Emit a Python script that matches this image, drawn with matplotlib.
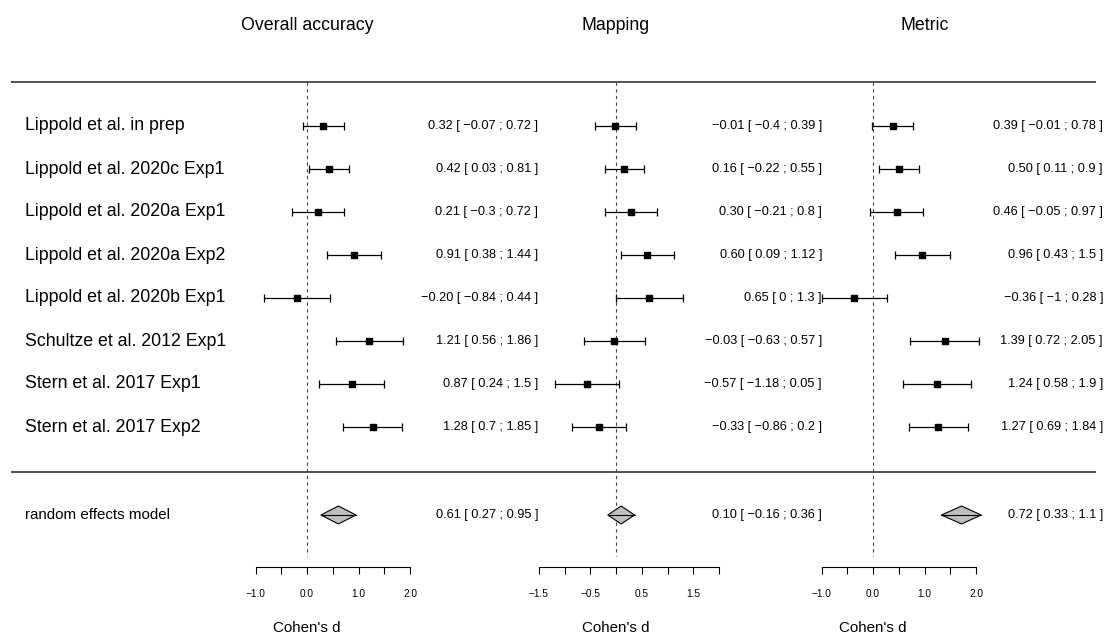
import matplotlib.pyplot as plt
from matplotlib.patches import Polygon

plt.rcParams['font.family'] = ['Liberation Sans', 'DejaVu Sans']

# studies (top to bottom)
studies = ["Lippold et al. in prep", "Lippold et al. 2020c Exp1", "Lippold et al. 2020a Exp1",
           "Lippold et al. 2020a Exp2", "Lippold et al. 2020b Exp1", "Schultze et al. 2012 Exp1",
           "Stern et al. 2017 Exp1", "Stern et al. 2017 Exp2"]

titles = ["Overall accuracy", "Mapping", "Metric"]

acc_est = [0.32, 0.42, 0.21, 0.91, -0.20, 1.21, 0.87, 1.28]
acc_lo = [-0.07, 0.03, -0.30, 0.38, -0.84, 0.56, 0.24, 0.70]
acc_hi = [0.72, 0.81, 0.72, 1.44, 0.44, 1.86, 1.50, 1.85]
acc_re = [0.61, 0.27, 0.95]

map_est = [-0.01, 0.16, 0.30, 0.60, 0.65, -0.03, -0.57, -0.33]
map_lo = [-0.40, -0.22, -0.21, 0.09, 0.00, -0.63, -1.18, -0.86]
map_hi = [0.39, 0.55, 0.80, 1.12, 1.30, 0.57, 0.05, 0.20]
map_re = [0.10, -0.16, 0.36]

met_est = [0.39, 0.50, 0.46, 0.96, -0.36, 1.39, 1.24, 1.27]
met_lo = [-0.01, 0.11, -0.05, 0.43, -1.00, 0.72, 0.58, 0.69]
met_hi = [0.78, 0.90, 0.97, 1.50, 0.28, 2.05, 1.90, 1.84]
met_re = [0.72, 0.33, 1.10]

# where the summary diamonds sit in the picture (metric one is drawn shifted)
diamonds = [[0.61, 0.27, 0.95], [0.10, -0.16, 0.36], [1.72, 1.33, 2.10]]

tick_vals = [[-1.0, -0.5, 0.0, 0.5, 1.0, 1.5, 2.0],
             [-1.5, -1.0, -0.5, 0.0, 0.5, 1.0, 1.5, 2.0],
             [-1.0, -0.5, 0.0, 0.5, 1.0, 1.5, 2.0]]
tick_labs = [["\u22121.0", "", "0.0", "", "1.0", "", "2.0"],
             ["\u22121.5", "", "\u22120.5", "", "0.5", "", "1.5", ""],
             ["\u22121.0", "", "0.0", "", "1.0", "", "2.0"]]

panels = [(acc_est, acc_lo, acc_hi, acc_re),
          (map_est, map_lo, map_hi, map_re),
          (met_est, met_lo, met_hi, met_re)]


def fnum(v, est=False):
    s = f"{abs(v):.2f}"
    if not est:
        s = s.rstrip('0').rstrip('.')
    if v < 0 and s not in ("0", "0.00"):
        s = "\u2212" + s
    return s


def ci_text(e, lo, hi):
    return f"{fnum(e, True)} [ {fnum(lo)} ; {fnum(hi)} ]"


# layout (pixels)
W, H = 1107, 634
row0, rowh = 126, 43
zeros = [307, 616, 873]
scale = 51.5
val_right = [538, 822, 1103]
title_x = [307, 616, 925]

fig = plt.figure(figsize=(W / 100, H / 100), dpi=100)
bg = fig.add_axes([0, 0, 1, 1])
bg.set_xlim(0, W)
bg.set_ylim(H, 0)
bg.axis('off')

bg.hlines([82, 472], 11, 1096, color='#222222', lw=1.1)
for i, s in enumerate(studies):
    bg.text(25, row0 + rowh * i, s, ha='left', va='center', fontsize=12.8)
bg.text(25, 515, "random effects model", ha='left', va='center', fontsize=10.9)

def r(px):
    return (px - row0) / rowh

re_row = r(515)
for k, (est, lo, hi, re) in enumerate(panels):
    bg.text(title_x[k], 26, titles[k], ha='center', va='center', fontsize=12.8)
    for i in range(len(est)):
        bg.text(val_right[k], row0 + rowh * i, ci_text(est[i], lo[i], hi[i]),
                ha='right', va='center', fontsize=9.15)
    bg.text(val_right[k], 515, ci_text(*re), ha='right', va='center', fontsize=9.15)

    ax = fig.add_axes([0, 0, 1, 1])
    ax.patch.set_visible(False)
    ax.set_xlim(-zeros[k] / scale, (W - zeros[k]) / scale)
    ax.set_ylim(r(H), r(0))
    rows = list(range(len(est)))

    ax.vlines(0, r(82), r(556), colors='#444444', lw=0.8, linestyles=(0, (3, 3)))
    xerr = [[e - l for e, l in zip(est, lo)], [h - e for e, h in zip(est, hi)]]
    ax.errorbar(est, rows, xerr=xerr, fmt='none', ecolor='black', elinewidth=0.9,
                capsize=3.2, capthick=0.9)
    ax.plot(est, rows, 's', color='black', ms=5, zorder=4)

    dm, dl, dh = diamonds[k]
    hh = 9 / rowh
    ax.add_patch(Polygon([[dl, re_row], [dm, re_row - hh], [dh, re_row], [dm, re_row + hh]],
                         closed=True, facecolor='#bebebe', edgecolor='black', lw=0.8, zorder=4))
    ax.plot([dl, dh], [re_row, re_row], color='black', lw=0.8, zorder=5)

    for sp in ['top', 'left', 'right']:
        ax.spines[sp].set_visible(False)
    ax.spines['bottom'].set_position(('data', r(567)))
    ax.spines['bottom'].set_bounds(tick_vals[k][0], tick_vals[k][-1])
    ax.spines['bottom'].set_linewidth(0.8)
    ax.set_yticks([])
    ax.set_xticks(tick_vals[k])
    ax.set_xticklabels(tick_labs[k])
    ax.tick_params(axis='x', direction='out', length=5, width=0.8, pad=10.5, labelsize=7.3)
    ax.text(0, r(628), "Cohen's d", ha='center', va='center', fontsize=10.9)

fig.savefig("out.png", dpi=100)
